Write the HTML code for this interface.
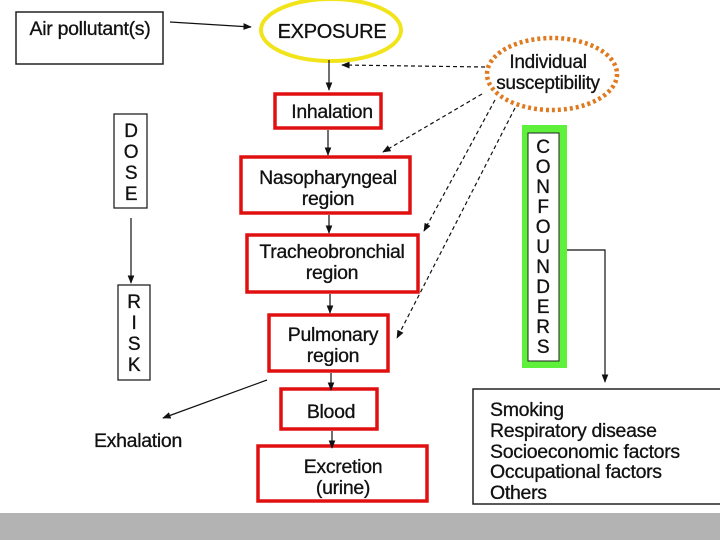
<!DOCTYPE html>
<html><head><style>
body{margin:0;background:#fff}
svg{display:block}
text{font-family:"Liberation Sans",Arial,sans-serif;fill:#111;stroke:#111;stroke-width:0.3;letter-spacing:-0.3px}
</style></head><body>
<svg width="720" height="540" viewBox="0 0 720 540">
<defs><marker id="a" viewBox="0 0 10 10" refX="9" refY="5" markerWidth="7" markerHeight="7" orient="auto"><path d="M0,1 L10,5 L0,9 z" fill="#111"/></marker></defs>
<rect x="16" y="12" width="147" height="52" fill="none" stroke="#222" stroke-width="1.5"/>
<text x="90" y="35" font-size="19.5" text-anchor="middle">Air pollutant(s)</text>
<line x1="170" y1="22" x2="251" y2="27" stroke="#111" stroke-width="1.2" marker-end="url(#a)"/>
<ellipse cx="331" cy="30" rx="70" ry="31" fill="none" stroke="#f2e41a" stroke-width="4"/>
<text x="332" y="38" font-size="20" text-anchor="middle">EXPOSURE</text>
<ellipse cx="552" cy="74" rx="65" ry="36" fill="none" stroke="#e07a20" stroke-width="4.5" stroke-dasharray="3,3"/>
<text x="548" y="68" font-size="19" text-anchor="middle">Individual</text>
<text x="548" y="89" font-size="19" text-anchor="middle">susceptibility</text>
<line x1="329" y1="60" x2="329" y2="90" stroke="#111" stroke-width="1.2" marker-end="url(#a)"/>
<g stroke="#111" stroke-width="1.2" stroke-dasharray="4,3" fill="none">
<line x1="485" y1="67" x2="342" y2="65" marker-end="url(#a)"/>
<line x1="482" y1="94" x2="383" y2="152" marker-end="url(#a)"/>
<line x1="495" y1="100" x2="424" y2="231" marker-end="url(#a)"/>
<line x1="515" y1="108" x2="397" y2="338" marker-end="url(#a)"/>
</g>
<g fill="none" stroke="#e01010" stroke-width="3.5">
<rect x="275" y="94" width="106" height="34"/>
<rect x="241" y="157" width="169" height="56"/>
<rect x="247" y="235" width="171" height="57"/>
<rect x="269" y="315" width="119" height="56"/>
<rect x="281" y="389" width="96" height="40"/>
<rect x="258" y="446" width="169" height="55"/>
</g>
<text x="332" y="118" font-size="19.5" text-anchor="middle">Inhalation</text>
<text x="328" y="184" font-size="19.5" text-anchor="middle">Nasopharyngeal</text>
<text x="328" y="205" font-size="19.5" text-anchor="middle">region</text>
<text x="332" y="258" font-size="19.5" text-anchor="middle">Tracheobronchial</text>
<text x="332" y="279" font-size="19.5" text-anchor="middle">region</text>
<text x="333" y="341" font-size="19.5" text-anchor="middle">Pulmonary</text>
<text x="333" y="362" font-size="19.5" text-anchor="middle">region</text>
<text x="331" y="418" font-size="19.5" text-anchor="middle">Blood</text>
<text x="343" y="473" font-size="19.5" text-anchor="middle">Excretion</text>
<text x="343" y="494" font-size="19.5" text-anchor="middle">(urine)</text>
<g stroke="#111" stroke-width="1.2" marker-end="url(#a)">
<line x1="328" y1="130" x2="328" y2="155"/>
<line x1="329" y1="215" x2="329" y2="233"/>
<line x1="330" y1="294" x2="330" y2="313"/>
<line x1="331" y1="373" x2="331" y2="390"/>
<line x1="332" y1="431" x2="332" y2="448"/>
<line x1="267" y1="380" x2="163" y2="418"/>
<line x1="131" y1="218" x2="131" y2="283"/>
</g>
<text x="138" y="447" font-size="19.5" text-anchor="middle">Exhalation</text>
<rect x="114" y="114" width="33" height="94" fill="none" stroke="#222" stroke-width="1.3"/>
<g font-size="19" text-anchor="middle"><text x="131" y="137">D</text><text x="131" y="158">O</text><text x="131" y="179">S</text><text x="131" y="200">E</text></g>
<rect x="118" y="285" width="32" height="95" fill="none" stroke="#222" stroke-width="1.3"/>
<g font-size="19" text-anchor="middle"><text x="134" y="308">R</text><text x="134" y="329">I</text><text x="134" y="350">S</text><text x="134" y="371">K</text></g>
<rect x="522" y="125" width="45" height="243" fill="#5ef03a"/>
<rect x="528" y="133" width="31" height="228" fill="#fff" stroke="#222" stroke-width="1"/>
<g font-size="19" text-anchor="middle">
<text x="543" y="153">C</text><text x="543" y="173">O</text><text x="543" y="193">N</text><text x="543" y="213">F</text><text x="543" y="233">O</text><text x="543" y="253">U</text><text x="543" y="273">N</text><text x="543" y="293">D</text><text x="543" y="313">E</text><text x="543" y="333">R</text><text x="543" y="353">S</text>
</g>
<polyline points="567,250 605,250 605,382" fill="none" stroke="#111" stroke-width="1.2" marker-end="url(#a)"/>
<rect x="473" y="389" width="250" height="115" fill="none" stroke="#222" stroke-width="1.5"/>
<g font-size="19.5"><text x="490" y="416">Smoking</text><text x="490" y="437">Respiratory disease</text><text x="490" y="458">Socioeconomic factors</text><text x="490" y="478">Occupational factors</text><text x="490" y="499">Others</text></g>
<rect x="0" y="513" width="720" height="27" fill="#b3b3b3"/>
</svg>
</body></html>
